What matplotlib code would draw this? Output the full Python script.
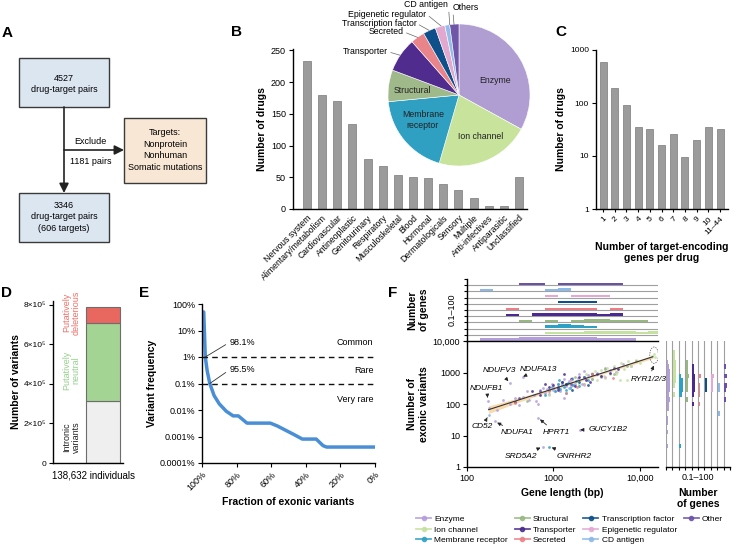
import numpy as np
import matplotlib
matplotlib.use('Agg')
import matplotlib.pyplot as plt
from matplotlib.patches import Rectangle
from matplotlib.lines import Line2D
from matplotlib.ticker import NullLocator

plt.rcParams['font.family'] = ['Liberation Sans', 'DejaVu Sans']
plt.rcParams['axes.linewidth'] = 1.0
plt.rcParams['xtick.major.size'] = 3
plt.rcParams['ytick.major.size'] = 3
plt.rcParams['xtick.major.width'] = 0.8
plt.rcParams['ytick.major.width'] = 0.8
plt.rcParams['xtick.major.pad'] = 2
plt.rcParams['ytick.major.pad'] = 2

# ---------------- dados ----------------
# A - fluxograma
pairs_all = 4527
pairs_excluded = 1181
pairs_kept = 3346
targets_kept = 606
excluded_reasons = ['Nonprotein', 'Nonhuman', 'Somatic mutations']

# B - drogas por classe
b_cats = ['Nervous system', 'Alimentary/metabolism', 'Cardiovascular', 'Antineoplastic',
          'Genitourinary', 'Respiratory', 'Musculoskeletal', 'Blood', 'Hormonal',
          'Dermatologicals', 'Sensory', 'Multiple', 'Anti-infectives', 'Antiparasitic',
          'Unclassified']
b_vals = [233, 179, 170, 134, 78, 68, 54, 51, 49, 40, 30, 17, 4, 4, 51]

pie_labels = ['Enzyme', 'Ion channel', 'Membrane\nreceptor', 'Structural', 'Transporter',
              'Secreted', 'Transcription factor', 'Epigenetic regulator', 'CD antigen', 'Others']
pie_vals = [33.0, 21.5, 19.0, 7.2, 7.8, 3.2, 2.9, 2.2, 1.1, 2.1]
pie_colors = ['#b09ed3', '#c7e39c', '#2f9fc2', '#a0b98a', '#4f2c8e',
              '#e8848a', '#0f4f8a', '#e2a8d0', '#93bde8', '#6f56a8']

# C - genes alvo por droga
c_cats = ['1', '2', '3', '4', '5', '6', '7', '8', '9', '10', '11–44']
c_vals = [590, 195, 92, 36, 33, 16, 26, 9.5, 20, 36, 33]

# D - variantes
d_labels = ['Intronic\nvariants', 'Putatively\nneutral', 'Putatively\ndeleterious']
d_vals = [3.12e5, 3.95e5, 0.85e5]
d_colors = ['#efefef', '#a3d494', '#e8675f']
d_text_colors = ['#222222', '#95d08a', '#ee6f66']

# E - frequencia das variantes (%)
e_frac = [99.0, 98.1, 97.0, 95.5, 93.0, 90.0, 86.0, 82.0, 79.0, 74.0, 60.5, 56.5,
          47.0, 42.0, 34.0, 30.0, 28.0, 0.0]
e_freq = [50, 1.0, 0.3, 0.1, 0.035, 0.017, 0.009, 0.006, 0.006, 0.0032, 0.0032, 0.0025,
          0.0012, 0.0008, 0.0008, 0.00045, 0.0004, 0.0004]

# F - comprimento do gene x variantes exonicas (log10)
cat_names = ['Enzyme', 'Ion channel', 'Membrane receptor', 'Structural', 'Transporter',
             'Secreted', 'Transcription factor', 'Epigenetic regulator', 'CD antigen', 'Other']
cat_colors = ['#b39ddb', '#c5e1a0', '#2ea0c4', '#98b882', '#4a2a8e',
              '#ec7f86', '#0d4f8b', '#e3a9d3', '#8db9e8', '#6b52a8']

enz_lx = [2.25, 2.35, 2.42, 2.50, 2.55, 2.60, 2.65, 2.70, 2.72, 2.78, 2.80, 2.85, 2.88, 2.90,
          2.93, 2.95, 2.98, 3.00, 3.02, 3.05, 3.08, 3.10, 3.12, 3.15, 3.18, 3.20, 3.22, 3.25,
          3.28, 3.30, 3.33, 3.36, 3.40, 3.45, 3.50, 3.55, 3.60, 3.65, 3.72, 3.80, 3.90, 2.82,
          3.12, 3.35]
enz_ly = [1.87, 1.81, 2.12, 1.99, 2.18, 1.98, 2.22, 2.42, 2.13, 2.29, 2.10, 2.45, 2.52, 2.34,
          2.47, 2.32, 2.64, 2.50, 2.42, 2.64, 2.40, 2.63, 2.79, 2.57, 2.74, 2.56, 2.81, 2.64,
          2.81, 2.94, 2.65, 2.84, 2.93, 2.80, 2.98, 2.86, 3.13, 3.07, 3.03, 3.28, 3.22, 2.00,
          2.20, 3.05]
ion_lx = [3.20, 3.30, 3.38, 3.45, 3.50, 3.55, 3.58, 3.62, 3.66, 3.70, 3.74, 3.78, 3.82, 3.86,
          3.90, 3.95, 4.00, 3.60, 3.48, 3.72, 2.95, 3.10, 3.77, 3.85, 4.14, 4.16, 4.17]
ion_ly = [2.80, 2.62, 2.95, 2.98, 2.75, 3.08, 2.90, 3.15, 2.95, 3.22, 3.02, 3.30, 3.12, 3.35,
          3.20, 3.40, 3.30, 2.82, 3.05, 2.96, 2.30, 2.70, 2.77, 2.75, 3.52, 3.60, 3.48]
mem_lx = [2.90, 2.98, 3.02, 3.05, 3.08, 3.10, 3.12, 3.14, 3.17, 3.19, 3.21, 3.23, 3.26, 3.30,
          3.35, 3.40, 3.15, 3.06, 2.95]
mem_ly = [2.30, 2.55, 2.40, 2.62, 2.48, 2.70, 2.55, 2.45, 2.66, 2.50, 2.78, 2.60, 2.72, 2.58,
          2.85, 2.75, 2.35, 2.75, 2.45]
str_lx = [2.70, 3.00, 3.25, 3.45, 3.60, 3.70, 3.85, 3.95, 3.55, 3.35]
str_ly = [2.10, 2.50, 2.85, 2.80, 3.10, 2.95, 3.20, 3.35, 2.90, 2.65]
tra_lx = [2.55, 2.75, 2.85, 2.95, 3.00, 3.05, 3.10, 3.15, 3.20, 3.25, 3.30, 3.38, 3.45, 3.55,
          3.65, 3.75, 2.90, 3.12, 3.42]
tra_ly = [2.05, 2.40, 2.30, 2.55, 2.60, 2.45, 2.70, 2.62, 2.78, 2.58, 2.85, 2.75, 2.95, 2.88,
          3.00, 3.12, 2.65, 2.95, 2.70]
sec_lx = [2.56, 2.95, 3.27, 3.45, 3.69, 3.15]
sec_ly = [2.03, 2.40, 2.55, 2.95, 2.82, 2.35]
tf_lx = [3.05, 3.15, 3.22, 3.30, 3.40]
tf_ly = [2.50, 2.65, 2.45, 2.70, 2.60]
epi_lx = [3.00, 3.20, 3.35, 3.50, 3.60]
epi_ly = [2.50, 2.75, 2.60, 2.95, 2.85]
cd_lx = [3.00, 3.10, 3.18]
cd_ly = [2.45, 2.60, 2.50]
oth_lx = [2.60, 2.85, 3.05, 3.20, 3.35, 3.50, 3.70]
oth_ly = [2.20, 2.40, 2.55, 2.65, 2.85, 2.95, 3.15]

# genes destacados
named_genes = ['NDUFB1', 'NDUFV3', 'NDUFA13', 'CD52', 'NDUFA1', 'HPRT1', 'GUCY1B2', 'SRD5A2', 'GNRHR2']
named_lx = [2.24, 2.50, 2.65, 2.25, 2.32, 2.82, 3.31, 2.88, 2.95]
named_ly = [2.11, 2.66, 2.87, 1.65, 1.45, 1.57, 1.18, 0.65, 0.65]
named_cat = [0, 0, 0, 8, 0, 0, 0, 0, 2]

# reta de tendencia e intervalo de confianca (log10)
trend_lx = [2.25, 4.15]
trend_ly = [1.82, 3.50]
band_lx = [2.25, 2.6, 3.0, 3.5, 4.15]
band_lo = [1.70, 2.06, 2.44, 2.89, 3.45]
band_hi = [1.94, 2.20, 2.52, 2.95, 3.55]

all_lx = [enz_lx, ion_lx, mem_lx, str_lx, tra_lx, sec_lx, tf_lx, epi_lx, cd_lx, oth_lx]
all_ly = [enz_ly, ion_ly, mem_ly, str_ly, tra_ly, sec_ly, tf_ly, epi_ly, cd_ly, oth_ly]
all_lx = [list(v) for v in all_lx]
all_ly = [list(v) for v in all_ly]
for gx, gy, gc in zip(named_lx, named_ly, named_cat):
    all_lx[gc].append(gx)
    all_ly[gc].append(gy)

# ---------------- figura ----------------
W, H = 733, 550
fig = plt.figure(figsize=(7.33, 5.5), dpi=100)


def rect(l, t, r, b):
    return [l / W, 1 - b / H, (r - l) / W, (b - t) / H]


def ftext(x, y, s, **kw):
    fig.text(x / W, 1 - y / H, s, **kw)


def clean(ax):
    ax.spines['top'].set_visible(False)
    ax.spines['right'].set_visible(False)


for letter, x, y in [('A', 7, 33), ('B', 236, 32), ('C', 561, 32),
                     ('D', 7, 293), ('E', 144, 293), ('F', 393, 293)]:
    ftext(x, y, letter, fontsize=11, fontweight='bold', ha='center', va='center')

# ---- A ----
ax_a = fig.add_axes(rect(0, 0, 230, 280))
ax_a.set_xlim(0, 230)
ax_a.set_ylim(280, 0)
ax_a.axis('off')
for l, t, r, b, fc in [(19, 58, 109, 107, '#dce6f1'), (124, 118, 206, 183, '#f8e7d4'),
                       (19, 193, 109, 242, '#dce6f1')]:
    ax_a.add_patch(Rectangle((l, t), r - l, b - t, facecolor=fc, edgecolor='#3a3a3a', lw=1.0))
ax_a.text(64, 84, '{}\ndrug-target pairs'.format(pairs_all), ha='center', va='center',
          fontsize=6.5, linespacing=1.4)
ax_a.text(64, 217, '{}\ndrug-target pairs\n({} targets)'.format(pairs_kept, targets_kept),
          ha='center', va='center', fontsize=6.5, linespacing=1.4)
ax_a.text(165, 150, 'Targets:\n' + '\n'.join(excluded_reasons), ha='center', va='center',
          fontsize=6.5, linespacing=1.4)
ax_a.annotate('', xy=(64, 193), xytext=(64, 107),
              arrowprops=dict(arrowstyle='-|>', lw=1.2, color='#222222', mutation_scale=14,
                              shrinkA=0, shrinkB=0))
ax_a.annotate('', xy=(124, 150), xytext=(64, 150),
              arrowprops=dict(arrowstyle='-|>', lw=1.2, color='#222222', mutation_scale=14,
                              shrinkA=0, shrinkB=0))
ax_a.text(90, 141, 'Exclude', ha='center', va='center', fontsize=6.5)
ax_a.text(91, 161, '{} pairs'.format(pairs_excluded), ha='center', va='center', fontsize=6.5)

# ---- B ----
ax_b = fig.add_axes(rect(293, 49, 527, 209))
xb = np.arange(len(b_cats))
ax_b.bar(xb, b_vals, width=0.53, color='#9b9b9b', edgecolor='#7a7a7a', lw=0.5)
ax_b.set_xlim(-0.93, len(b_cats) - 0.47)
ax_b.set_ylim(0, 252)
ax_b.set_yticks([0, 50, 100, 150, 200, 250])
ax_b.set_xticks(xb)
ax_b.set_xticklabels(b_cats, rotation=45, ha='right', rotation_mode='anchor', fontsize=6.2)
ax_b.tick_params(axis='y', labelsize=6.5)
ax_b.tick_params(axis='x', length=0, pad=3)
ax_b.set_ylabel('Number of drugs', fontsize=7.5, fontweight='bold', labelpad=3)
clean(ax_b)

ax_pie = fig.add_axes(rect(388, 24, 530, 166))
ax_pie.pie(pie_vals, colors=pie_colors, startangle=90, counterclock=False,
           wedgeprops=dict(edgecolor='white', linewidth=0.4))
ax_pie.set_xlim(-1, 1)
ax_pie.set_ylim(-1, 1)
for lab, px, py in [(pie_labels[0], 0.51, 0.21), (pie_labels[1], 0.30, -0.59),
                    (pie_labels[2], -0.51, -0.35), (pie_labels[3], -0.65, 0.07)]:
    ax_pie.text(px, py, lab, ha='center', va='center', fontsize=6.3, color='#222222')
for lab, tx, ty, ha, xy in [(pie_labels[4], -1.0, 0.61, 'right', (-0.83, 0.56)),
                            (pie_labels[5], -0.78, 0.89, 'right', (-0.58, 0.81)),
                            (pie_labels[6], -0.60, 1.01, 'right', (-0.42, 0.91)),
                            (pie_labels[7], -0.46, 1.14, 'right', (-0.25, 0.97)),
                            (pie_labels[8], -0.15, 1.27, 'right', (-0.13, 0.99)),
                            (pie_labels[9], -0.09, 1.23, 'left', (-0.07, 0.99))]:
    ax_pie.annotate(lab, xy=xy, xytext=(tx, ty), ha=ha, va='center', fontsize=6.3,
                    arrowprops=dict(arrowstyle='-', lw=0.5, color='#666666',
                                    shrinkA=0, shrinkB=0,
                                    relpos=(1, 0.5) if ha == 'right' else (0, 0.5)))

# ---- C ----
ax_c = fig.add_axes(rect(596, 50, 728, 209))
xc = np.arange(len(c_cats))
ax_c.bar(xc, c_vals, width=0.6, color='#9b9b9b', edgecolor='#7a7a7a', lw=0.5)
ax_c.set_yscale('log')
ax_c.set_ylim(1, 1000)
ax_c.set_xlim(-0.6, len(c_cats) - 0.32)
ax_c.yaxis.set_minor_locator(NullLocator())
ax_c.set_yticks([1, 10, 100, 1000])
ax_c.set_yticklabels(['1', '10', '100', '1000'])
ax_c.set_xticks(xc)
ax_c.set_xticklabels(c_cats, rotation=45, ha='right', rotation_mode='anchor', fontsize=6)
ax_c.tick_params(axis='y', labelsize=6)
ax_c.tick_params(axis='x', length=2.5)
ax_c.set_ylabel('Number of drugs', fontsize=7.5, fontweight='bold', labelpad=3)
ax_c.set_xlabel('Number of target-encoding\ngenes per drug', fontsize=7.5,
                fontweight='bold', labelpad=4)
clean(ax_c)

# ---- D ----
ax_d = fig.add_axes(rect(53, 301, 123, 463))
bottom = 0
for v, c in zip(d_vals, d_colors):
    ax_d.bar(0.714, v, width=0.486, bottom=bottom, color=c, edgecolor='#6d6d6d', lw=0.8)
    bottom += v
ax_d.set_xlim(0, 1)
ax_d.set_ylim(0, 8.2e5)
ax_d.set_xticks([])
ax_d.set_yticks([0, 2e5, 4e5, 6e5, 8e5])
ax_d.set_yticklabels(['0', '2×10⁵', '4×10⁵', '6×10⁵', '8×10⁵'], fontsize=6)
ax_d.set_ylabel('Number of variants', fontsize=7.5, fontweight='bold', labelpad=2)
for lab, c, yv in zip(d_labels, d_text_colors, [1.3e5, 4.7e5, 7.6e5]):
    ax_d.text(0.26, yv, lab, rotation=90, ha='center', va='center', color=c,
              fontsize=6.5, linespacing=1.1)
clean(ax_d)
ftext(93, 475, '138,632 individuals', ha='center', va='center', fontsize=7)

# ---- E ----
ax_e = fig.add_axes(rect(202, 304, 375, 463))
ax_e.plot(e_frac, e_freq, color='#4a8fd6', lw=2.5, solid_capstyle='round')
ax_e.set_yscale('log')
ax_e.set_ylim(1e-4, 100)
ax_e.set_xlim(100, 0)
ax_e.yaxis.set_minor_locator(NullLocator())
ax_e.set_yticks([1e-4, 1e-3, 1e-2, 0.1, 1, 10, 100])
ax_e.set_yticklabels(['0.0001%', '0.001%', '0.01%', '0.1%', '1%', '10%', '100%'], fontsize=6.5)
ax_e.set_xticks([100, 80, 60, 40, 20, 0])
ax_e.set_xticklabels(['100%', '80%', '60%', '40%', '20%', '0%'], rotation=45, ha='right',
                     rotation_mode='anchor', fontsize=6.5)
for yv in [1, 0.1]:
    ax_e.axhline(yv, color='#111111', lw=1.0, ls=(0, (4, 3)))
ax_e.text(1, 3.5, 'Common', ha='right', va='center', fontsize=6.5)
ax_e.text(1, 0.31, 'Rare', ha='right', va='center', fontsize=6.5)
ax_e.text(1, 0.026, 'Very rare', ha='right', va='center', fontsize=6.5)
for lab, xv, yv, ty in [('98.1%', 98.1, 1.0, 3.6), ('95.5%', 95.5, 0.1, 0.33)]:
    ax_e.annotate(lab, xy=(xv, yv), xytext=(84, ty), ha='left', va='center', fontsize=6.5,
                  arrowprops=dict(arrowstyle='-', lw=0.6, color='#333333', shrinkA=1,
                                  shrinkB=0, relpos=(0, 0.5)))
ax_e.set_ylabel('Variant frequency', fontsize=7.5, fontweight='bold', labelpad=2)
ax_e.set_xlabel('Fraction of exonic variants', fontsize=7.5, fontweight='bold', labelpad=3)
clean(ax_e)

# ---- F ----
ax_f = fig.add_axes(rect(467, 341, 658, 467))
ax_f.fill_between([10 ** v for v in band_lx], [10 ** v for v in band_lo],
                  [10 ** v for v in band_hi], color='#f5c27a', alpha=0.6, lw=0)
for lx, ly, c in zip(all_lx, all_ly, cat_colors):
    ax_f.scatter([10 ** v for v in lx], [10 ** v for v in ly], s=4, color=c, alpha=0.85, lw=0)
ax_f.plot([10 ** v for v in trend_lx], [10 ** v for v in trend_ly], color='#333333', lw=0.8)
ax_f.set_xscale('log')
ax_f.set_yscale('log')
ax_f.set_xlim(100, 10 ** 4.21)
ax_f.set_ylim(1, 1e4)
ax_f.xaxis.set_minor_locator(NullLocator())
ax_f.yaxis.set_minor_locator(NullLocator())
ax_f.set_xticks([100, 1000, 10000])
ax_f.set_xticklabels(['100', '1000', '10,000'], fontsize=6.5)
ax_f.set_yticks([1, 10, 100, 1000, 10000])
ax_f.set_yticklabels(['1', '10', '100', '1000', '10,000'], fontsize=6.5)
ax_f.set_xlabel('Gene length (bp)', fontsize=7.5, fontweight='bold', labelpad=4)
ax_f.set_ylabel('Number of\nexonic variants', fontsize=7.5, fontweight='bold')
ax_f.yaxis.set_label_coords(-0.2, 0.5)
clean(ax_f)

label_pos = [(2.23, 2.50), (2.37, 3.06), (2.83, 3.10), (2.18, 1.29), (2.58, 1.08),
             (3.03, 1.08), (3.63, 1.18), (2.62, 0.34), (3.24, 0.34)]
for g, gx, gy, (tx, ty) in zip(named_genes, named_lx, named_ly, label_pos):
    ax_f.annotate(g, xy=(10 ** gx, 10 ** gy), xytext=(10 ** tx, 10 ** ty), ha='center',
                  va='center', fontsize=6, style='italic',
                  arrowprops=dict(arrowstyle='-|>', lw=0.6, color='#222222',
                                  mutation_scale=5, shrinkA=2, shrinkB=2))
ax_f.annotate('RYR1/2/3', xy=(10 ** 4.16, 10 ** 3.22), xytext=(10 ** 4.10, 10 ** 2.77),
              ha='center', va='center', fontsize=6, style='italic',
              arrowprops=dict(arrowstyle='-|>', lw=0.6, color='#222222',
                              mutation_scale=5, shrinkA=2, shrinkB=0))
t = np.linspace(0, 2 * np.pi, 60)
ax_f.plot(10 ** (4.165 + 0.05 * np.cos(t)), 10 ** (3.55 + 0.26 * np.sin(t)),
          color='#555555', lw=0.5, ls=(0, (2, 1.5)))

# histogramas de cima (comprimento do gene)
ax_top = fig.add_axes(rect(467, 279, 658, 341))
ax_top.set_xscale('log')
ax_top.set_xlim(100, 10 ** 4.21)
ax_top.set_ylim(0, 10)
lx_edges = np.linspace(2.0, 4.25, 16)
for i, (lx, c) in enumerate(zip(all_lx, cat_colors)):
    counts, _ = np.histogram(lx, lx_edges)
    m = counts > 0
    hgt = (np.log10(counts[m]) + 1) / 3 * 0.95
    left = 10 ** lx_edges[:-1][m]
    wid = 10 ** lx_edges[1:][m] - left
    ax_top.bar(left, hgt, width=wid, bottom=i + 0.08, align='edge', color=c, lw=0)
    if i > 0:
        ax_top.axhline(i, color='#a0a0a0', lw=0.8, zorder=0)
ax_top.xaxis.set_minor_locator(NullLocator())
ax_top.set_xticks([])
ax_top.set_yticks(np.arange(11))
ax_top.set_yticklabels([])
ax_top.tick_params(axis='y', length=2)
for s in ['top', 'right']:
    ax_top.spines[s].set_visible(False)
ax_top.text(-0.08, 0.5, '0.1–100', rotation=90, ha='center', va='center', fontsize=6.5,
            transform=ax_top.transAxes)
ax_top.set_ylabel('Number\nof genes', fontsize=7.5, fontweight='bold')
ax_top.yaxis.set_label_coords(-0.2, 0.5)

# histogramas da direita (variantes exonicas)
ax_r = fig.add_axes(rect(666, 341, 730, 467))
ax_r.set_yscale('log')
ax_r.set_ylim(1, 1e4)
ax_r.set_xlim(0, 10)
ly_edges = np.linspace(0.0, 4.0, 28)
for i, (ly, c) in enumerate(zip(all_ly, cat_colors)):
    counts, _ = np.histogram(ly, ly_edges)
    m = counts > 0
    wdt = (np.log10(counts[m]) + 1) / 3 * 0.9
    low = 10 ** ly_edges[:-1][m]
    ht = 10 ** ly_edges[1:][m] - low
    ax_r.barh(low, wdt, height=ht, left=i + 0.08, align='edge', color=c, lw=0)
    ax_r.axvline(i, color='#a0a0a0', lw=0.8, zorder=0)
ax_r.yaxis.set_minor_locator(NullLocator())
ax_r.set_yticks([])
ax_r.set_xticks(np.arange(11))
ax_r.set_xticklabels([])
ax_r.tick_params(axis='x', length=2)
for s in ['top', 'right', 'left']:
    ax_r.spines[s].set_visible(False)
ax_r.text(0.5, -0.05, '0.1–100', ha='center', va='top', fontsize=6.5, transform=ax_r.transAxes)
ax_r.set_xlabel('Number\nof genes', fontsize=7.5, fontweight='bold', labelpad=11)

# legenda: 3 linhas x 4 colunas (ultima coluna so com "Other")
handles = [Line2D([0], [0], color=c, marker='o', markersize=3, lw=1.3, alpha=0.85)
           for c in cat_colors]
labels = list(cat_names)
for _ in range(2):
    handles.append(Line2D([0], [0], color='none'))
    labels.append('')
fig.legend(handles, labels, loc='upper left', bbox_to_anchor=(416 / W, 1 - 515 / H),
           ncol=4, fontsize=6, frameon=False, handlelength=1.8, handletextpad=0.4,
           columnspacing=0.8, labelspacing=0.35, borderpad=0, borderaxespad=0)

fig.savefig('out.png', dpi=100, facecolor='white')
